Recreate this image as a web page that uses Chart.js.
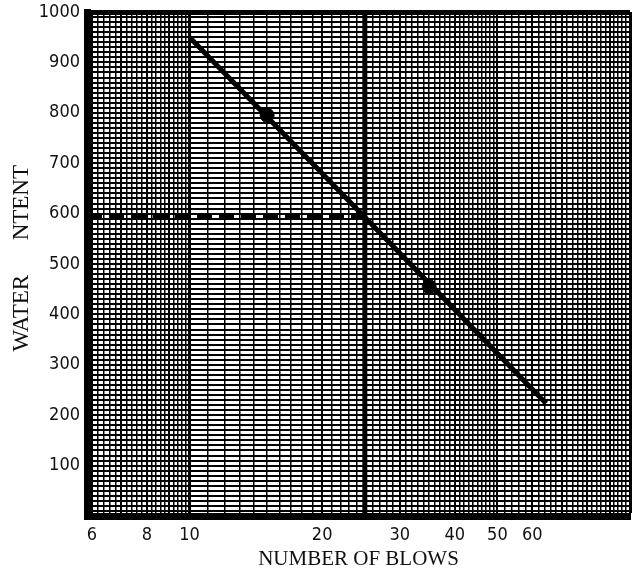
<!DOCTYPE html>
<html>
<head>
<meta charset="utf-8">
<script src="https://cdn.jsdelivr.net/npm/chart.js@4/dist/chart.umd.min.js"></script>
<style>
  html, body { margin: 0; padding: 0; background: #ffffff; }
  #wrap { width: 638px; height: 570px; }
</style>
</head>
<body>
<div id="wrap"><canvas id="c" width="638" height="570"></canvas></div>
<script>
// ---- data ----
const fitBlows = [10, 64.5];          // ends of the flow line
const fitWater = [950, 223];
const testBlows = [15, 35];           // plotted test points
const testWater = [795, 455];
const limitBlows = 25;                // 25-blow reference line
const limitWater = 593;               // water content read at 25 blows
const xTickLabels = [6, 8, 10, 20, 30, 40, 50, 60];
const yTickLabels = [100, 200, 300, 400, 500, 600, 700, 800, 900, 1000];
const xMin = 5.85, xMax = 100, yMin = 0, yMax = 1000;

// graph-paper rulings (tick positions of the scales)
const xRulings = [];
for (let v = 60; v < 100; v += 2) xRulings.push(v / 10);   // 6 .. 9.8 by 0.2
for (let v = 10; v < 50; v += 1) xRulings.push(v);         // 10 .. 49 by 1
for (let v = 50; v <= 100; v += 2) xRulings.push(v);       // 50 .. 100 by 2
const yRulings = [];
for (let v = 0; v <= 1000; v += 10) yRulings.push(v);

const pts = (xs, ys) => xs.map((x, i) => ({ x: x, y: ys[i] }));

const tickFont = { family: "'Liberation Sans Narrow', 'DejaVu Sans Condensed', 'Liberation Sans', sans-serif", size: 18, lineHeight: 1 };

new Chart(document.getElementById('c'), {
  type: 'line',
  data: {
    datasets: [
      {
        label: 'flow line',
        data: pts(fitBlows, fitWater),
        borderColor: '#000', borderWidth: 5, pointRadius: 0, borderCapStyle: 'butt'
      },
      {
        label: 'tests',
        data: pts(testBlows, testWater),
        showLine: false, pointRadius: 7, pointBackgroundColor: '#000', pointBorderColor: '#000', pointBorderWidth: 1
      },
      {
        label: '25 blows',
        data: pts([limitBlows, limitBlows], [yMin, yMax]),
        borderColor: '#000', borderWidth: 5, pointRadius: 0
      },
      {
        label: 'water content at 25 blows',
        data: pts([xMin, limitBlows], [limitWater, limitWater]),
        borderColor: '#000', borderWidth: 5, borderDash: [15, 7], pointRadius: 0
      }
    ]
  },
  options: {
    responsive: false,
    animation: false,
    layout: { padding: { left: 0, right: 5, top: 12, bottom: 0 } },
    plugins: { legend: { display: false }, tooltip: { enabled: false } },
    scales: {
      x: {
        type: 'logarithmic',
        min: xMin, max: xMax,
        afterBuildTicks: s => { s.ticks = xRulings.map(v => ({ value: v })); },
        afterFit: s => { s.height = 54; s.paddingLeft = 0; s.paddingRight = 0; },
        grid: {
          color: '#000',
          drawTicks: false,
          lineWidth: c => {
            const v = c.tick ? c.tick.value : 0;
            if (v === 100) return 3;
            if (v === 10) return 3;
            if (v < 10 && Math.abs(v - Math.round(v)) < 1e-6) return 2;
            if (v % 10 === 0) return 2;
            return 1.5;
          }
        },
        border: { display: true, color: '#000', width: 7 },
        ticks: {
          autoSkip: false, maxRotation: 0, minRotation: 0, padding: 10,
          color: '#111', font: tickFont,
          callback: v => (xTickLabels.some(t => Math.abs(t - v) < 1e-6) ? String(Math.round(v)) : '')
        },
        title: {
          display: true, text: 'NUMBER OF BLOWS', color: '#111',
          font: { family: "'Liberation Serif', 'Times New Roman', serif", size: 21, lineHeight: 1 },
          padding: { top: 0, bottom: 0 }
        }
      },
      y: {
        type: 'linear',
        min: yMin, max: yMax,
        afterBuildTicks: s => { s.ticks = yRulings.map(v => ({ value: v })); },
        afterFit: s => { s.width = 87; s.paddingTop = 0; s.paddingBottom = 0; },
        grid: {
          color: '#000',
          drawTicks: false,
          lineWidth: c => {
            const v = c.tick ? c.tick.value : 0;
            if (v === 1000) return 5;
            return 2;
          }
        },
        border: { display: true, color: '#000', width: 7 },
        ticks: {
          autoSkip: false, padding: 7, color: '#111', font: tickFont,
          callback: v => (yTickLabels.indexOf(v) >= 0 ? String(v) : '')
        },
        title: {
          display: true, text: '  WATER      NTENT', color: '#111',
          font: { family: "'Liberation Serif', 'Times New Roman', serif", size: 23, lineHeight: 1.2 },
          padding: { top: 8, bottom: 0 }
        }
      }
    }
  }
});
</script>
</body>
</html>
